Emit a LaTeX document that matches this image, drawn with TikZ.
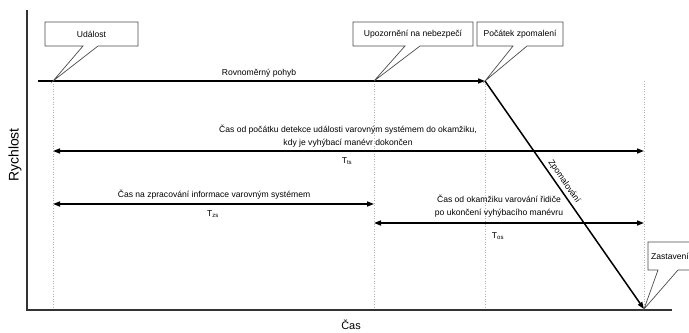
\documentclass[tikz,border=0pt]{standalone}
\usepackage{fontspec}
\setmainfont{Liberation Sans}
\usetikzlibrary{arrows.meta}
\begin{document}
\begin{tikzpicture}[x=1bp,y=-1bp,
  axis/.style={line width=1.6bp, draw=black!80},
  mainline/.style={line width=1.5bp, draw=black},
  guide/.style={draw=black!30, dotted, line width=0.6bp},
  callout/.style={draw=black!70, line width=0.7bp, fill=white},
  lbl/.style={font=\fontsize{8.6}{13}\selectfont, inner sep=0pt, align=center},
  tiny/.style={font=\fontsize{8.6}{10}\selectfont, inner sep=0pt},
  ylbl/.style={font=\fontsize{14}{16}\selectfont, inner sep=0pt},
  xlbl/.style={font=\fontsize{11}{13}\selectfont, inner sep=0pt},
  tipend/.style={-{Triangle[length=7bp,width=5bp]}},
  dbl/.style={{Triangle[length=7bp,width=5bp]}-{Triangle[length=7bp,width=5bp]}}
]
\useasboundingbox (0,0) rectangle (689,332);

% key points
\coordinate (O) at (27,310);
\coordinate (Ytop) at (27,10);
\coordinate (Xend) at (672,310);
\coordinate (S) at (38,81);
\coordinate (E) at (53,81);
\coordinate (U) at (374,81);
\coordinate (P) at (485,81);
\coordinate (Z) at (644,309);
\coordinate (Eb) at (53,310);
\coordinate (Ub) at (374,310);
\coordinate (Pb) at (485,310);
\coordinate (Zt) at (644,81);

% guides
\draw[guide] (E) -- (Eb);
\draw[guide] (U) -- (Ub);
\draw[guide] (P) -- (Pb);
\draw[guide] (Zt) -- (Z);

% axes
\draw[axis] (Ytop) -- (O) -- (Xend);
\node[ylbl, rotate=90] (ylab) at (15,155) {Rychlost};
\node[xlbl] (xlab) at (351,325) {Čas};

% motion
\draw[mainline, tipend] (S) -- (P);
\node[lbl] (rov) at (259,73) {Rovnoměrný pohyb};
\draw[mainline, tipend] (P) -- (Z) node[pos=0.46, sloped, above=2.5bp, lbl] (zpom) {Zpomalování};

% intervals
\coordinate (A1l) at (53,151); \coordinate (A1r) at (644,151);
\coordinate (A2l) at (53,204);  \coordinate (A2r) at (374,204);
\coordinate (A3l) at (374,223); \coordinate (A3r) at (644,223);
\draw[mainline, dbl] (A1l) -- (A1r);
\draw[mainline, dbl] (A2l) -- (A2r);
\draw[mainline, dbl] (A3l) -- (A3r);
\node[lbl] (t1) at (348,136.5) {Čas od počátku detekce události varovným systémem do okamžiku,\\kdy je vyhýbací manévr dokončen};
\node[tiny] (t1s) at (347,161) {T\textsubscript{ts}};
\node[lbl] (t2) at (214,195) {Čas na zpracování informace varovným systémem};
\node[tiny] (t2s) at (213,214) {T\textsubscript{zs}};
\node[lbl] (t3) at (499,206.5) {Čas od okamžiku varování řidiče\\po ukončení vyhýbacího manévru};
\node[tiny] (t3s) at (498,236) {T\textsubscript{os}};

% callouts
\draw[callout] (45,22) -- (138,22) -- (138,46) -- (98,46) -- (E) -- (83,46) -- (45,46) -- cycle;
\node[lbl] (c1) at (91.5,34) {Událost};
\draw[callout] (353,22) -- (473,22) -- (473,46) -- (420,46) -- (U) -- (405,46) -- (353,46) -- cycle;
\node[lbl] (c2) at (413,34) {Upozornění na nebezpečí};
\draw[callout] (477,22) -- (563,22) -- (563,46) -- (527,46) -- (P) -- (513,46) -- (477,46) -- cycle;
\node[lbl] (c3) at (520,34) {Počátek zpomalení};
\draw[callout] (648,242) -- (700,242) -- (700,270) -- (678,270) -- (Z) -- (658,270) -- (648,270) -- cycle;
\node[lbl, anchor=west] (c4) at (651,256) {Zastavení};
\end{tikzpicture}
\end{document}
